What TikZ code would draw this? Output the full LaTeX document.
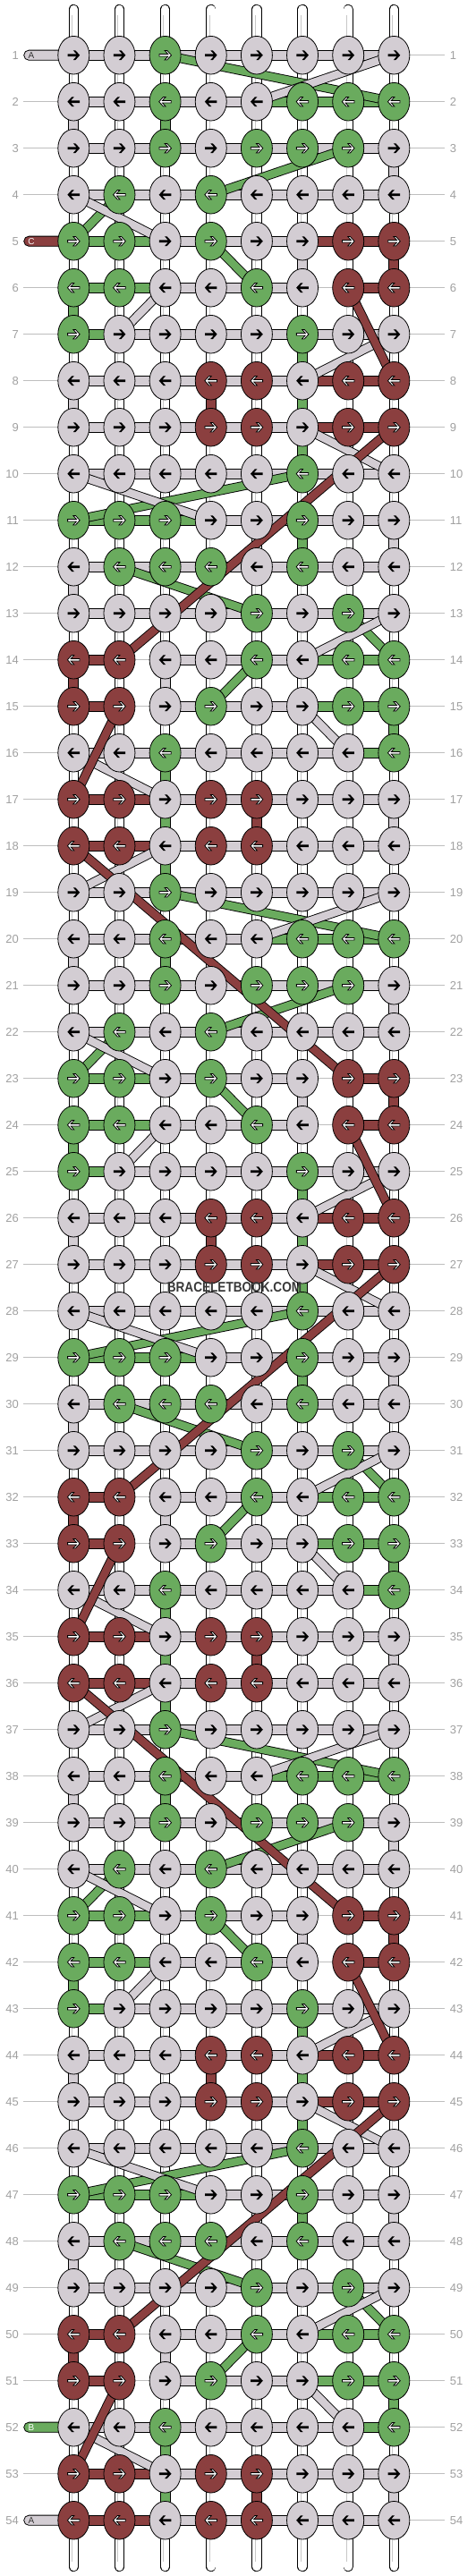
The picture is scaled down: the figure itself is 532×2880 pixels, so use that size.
\documentclass[tikz,border=0pt]{standalone}
\usepackage{fontspec}
\setmainfont{Liberation Sans}
\usetikzlibrary{shapes.geometric}

\definecolor{strL}{HTML}{D3CDD3}
\definecolor{strG}{HTML}{6AAB5E}
\definecolor{strR}{HTML}{8B3F3F}
\definecolor{rowgray}{HTML}{A0A0A0}
\definecolor{guide}{HTML}{BEBEBE}
\definecolor{txtdark}{HTML}{333333}

\tikzset{
  knot/.style={ellipse, draw=black, line width=0.8, minimum width=35, minimum height=42.6, inner sep=0},
  knotL/.style={knot, fill=strL},
  knotG/.style={knot, fill=strG},
  knotR/.style={knot, fill=strR},
  arrL/.style={fill=black},
  arrG/.style={fill=white, draw=black, line width=0.8, line join=miter},
  arrR/.style={arrG},
  pics/knotarrow/.style={code={
    \path[#1] (6.9,0) -- (2.1,5.3) -- (-0.5,5.3) -- (3.1,1.3) -- (-6.7,1.3) -- (-6.7,-1.3)
      -- (3.1,-1.3) -- (-0.5,-5.3) -- (2.1,-5.3) -- cycle;
  }},
  seg/.style={fill=#1, draw=black, line width=0.8},
  band/.style={draw=black, line width=10.4, postaction={draw=#1, line width=8.6}},
  tube/.style={draw=black, line width=11.4, line cap=round,
    postaction={draw=white, line width=9.6, line cap=round}},
  tubeshade/.style={draw=black!22, line width=0.7},
  guideline/.style={draw=guide, line width=1},
  rownum/.style={text=rowgray, font=\fontsize{13}{15}\selectfont, inner sep=0},
  stub/.style={draw=black, line width=0.8, rounded corners=5.6},
  stublab/.style={font=\fontsize{10}{12}\selectfont, inner sep=0},
  wm/.style={font=\bfseries\fontsize{13.6}{15}\selectfont, yscale=1.15, inner sep=0}
}

\begin{document}
\begin{tikzpicture}[x=1pt,y=-1pt]
\useasboundingbox (0,0) rectangle (532,2880);

% knot centres
\foreach \r in {1,...,54}
  \foreach \cc in {1,...,8}
    \coordinate (p\r-\cc) at ({82.3+(\cc-1)*51.15},{61.7+(\r-1)*52});

% guide lines and row numbers
\foreach \r in {1,...,54} {
  \coordinate (gl\r) at (26,{61.7+(\r-1)*52});
  \coordinate (gr\r) at (497,{61.7+(\r-1)*52});
  \draw[guideline] (gl\r) -- (gr\r);
  \node[rownum, anchor=east] (ln\r) at ([xshift=-5]gl\r) {\r};
  \node[rownum, anchor=west] (rn\r) at ([xshift=5.7]gr\r) {\r};
}

% base strings
\foreach \cc in {1,...,8} {
  \coordinate (t\cc) at ({82.3+(\cc-1)*51.15},10.5);
  \coordinate (b\cc) at ({82.3+(\cc-1)*51.15},2869.5);
  \draw[tube] (t\cc) -- (b\cc);
  \draw[tubeshade] ([xshift=-1.8,yshift=-6]t\cc) -- ([xshift=-1.8,yshift=6]b\cc);
}

% coloured pieces of the base strings
\foreach \p in {0,18,36}
  \foreach \ra/\cc/\k in {2/1/L, 2/3/G, 3/8/L, 5/6/L, 5/8/R, 6/1/G, 7/6/G, 8/1/L, 8/4/R, 8/6/G,
      9/6/G, 11/6/G, 11/8/L, 12/1/L, 14/1/R, 14/3/L, 15/8/G, 16/3/G, 17/3/G, 17/5/R, 17/8/L} {
    \pgfmathtruncatemacro\r{\ra+\p}
    \pgfmathtruncatemacro\rn{\ra+\p+1}
    \path[seg=str\k] ([xshift=-5.5]p\r-\cc) rectangle ([xshift=5.5]p\rn-\cc);
  }
\foreach \r in {18,36} {
  \pgfmathtruncatemacro\rn{\r+1}
  \path[seg=strG] ([xshift=-5.5]p\r-3) rectangle ([xshift=5.5]p\rn-3);
}

% knotting strings along the rows
\foreach \p in {0,18,36}
  \foreach \t/\segs in {1/{L,L,L,L,L,L,L}, 2/{L,L,L,L,G,G,G}, 3/{L,L,L,L,L,L,L},
      4/{L,L,L,L,L,L,L}, 5/{G,G,L,L,L,N,R}, 6/{G,G,L,L,L,N,R}, 7/{G,L,L,L,L,L,L},
      8/{L,L,L,L,L,R,R}, 9/{L,L,L,L,L,R,R}, 10/{L,L,L,L,L,L,L}, 11/{G,G,G,L,L,L,L},
      12/{L,L,L,L,L,L,L}, 13/{L,L,L,L,L,L,L}, 14/{R,N,L,L,L,G,G}, 15/{R,N,L,L,L,G,G},
      16/{L,L,L,L,L,L,G}, 17/{R,R,L,L,L,L,L}, 18/{R,R,L,L,L,L,L}} {
    \pgfmathtruncatemacro\r{\t+\p}
    \foreach \s [count=\cc] in \segs {
      \pgfmathtruncatemacro\cn{\cc+1}
      \if\s N\else
        \path[seg=str\s] ([yshift=5.6]p\r-\cc) rectangle ([yshift=-5.6]p\r-\cn);
      \fi
    }
  }
\path[seg=strR] ([yshift=5.6]p5-6) rectangle ([yshift=-5.6]p5-7);

% strings jumping between rows
\foreach \p in {0,18,36} {
  \foreach \ra/\ca/\rb/\cb in {1/3/2/8, 3/7/4/4, 4/2/5/1, 5/4/6/5, 10/6/11/1, 12/2/13/5, 13/7/14/8, 14/5/15/4} {
    \pgfmathtruncatemacro\r{\ra+\p}
    \pgfmathtruncatemacro\rn{\rb+\p}
    \draw[band=strG] (p\r-\ca) -- (p\rn-\cb);
  }
  \foreach \ra/\ca/\rb/\cb in {1/8/2/5, 4/1/5/3, 6/3/7/2, 7/8/8/6, 9/6/10/8, 10/1/11/4, 13/8/14/6, 15/6/16/7, 16/1/17/3} {
    \pgfmathtruncatemacro\r{\ra+\p}
    \pgfmathtruncatemacro\rn{\rb+\p}
    \draw[band=strL] (p\r-\ca) -- (p\rn-\cb);
  }
}
\foreach \p in {0,18} {
  \pgfmathtruncatemacro\r{18+\p}
  \pgfmathtruncatemacro\rn{19+\p}
  \draw[band=strL] (p\r-3) -- (p\rn-1);
}
\foreach \p in {0,18,36}
  \foreach \ra/\ca/\rb/\cb in {6/7/8/8, 9/8/14/2, 15/2/17/1} {
    \pgfmathtruncatemacro\r{\ra+\p}
    \pgfmathtruncatemacro\rn{\rb+\p}
    \draw[band=strR] (p\r-\ca) -- (p\rn-\cb);
  }
\foreach \p in {0,18} {
  \pgfmathtruncatemacro\r{18+\p}
  \pgfmathtruncatemacro\rn{23+\p}
  \draw[band=strR] (p\r-1) -- (p\rn-7);
}

% loose ends entering at the left
\foreach \r/\k/\lab/\tc in {1/L/A/txtdark, 5/R/C/white, 52/G/B/white, 54/L/A/txtdark} {
  \coordinate (s\r) at (26.7,{61.7+(\r-1)*52});
  \path[stub, fill=str\k] ([yshift=5.6]s\r) rectangle ([yshift=-5.6]p\r-1);
  \node[stublab, text=\tc] (sl\r) at ([xshift=8.3]s\r) {\lab};
}

% knots
\foreach \p in {0,18,36}
  \foreach \t/\cols in {1/{L,L,G,L,L,L,L,L}, 2/{L,L,G,L,L,G,G,G}, 3/{L,L,G,L,G,G,G,L},
      4/{L,G,L,G,L,L,L,L}, 5/{G,G,L,G,L,L,R,R}, 6/{G,G,L,L,G,L,R,R}, 7/{G,L,L,L,L,G,L,L},
      8/{L,L,L,R,R,L,R,R}, 9/{L,L,L,R,R,L,R,R}, 10/{L,L,L,L,L,G,L,L}, 11/{G,G,G,L,L,G,L,L},
      12/{L,G,G,G,L,G,L,L}, 13/{L,L,L,L,G,L,G,L}, 14/{R,R,L,L,G,L,G,G}, 15/{R,R,L,G,L,L,G,G},
      16/{L,L,G,L,L,L,L,G}, 17/{R,R,L,R,R,L,L,L}, 18/{R,R,L,R,R,L,L,L}} {
    \pgfmathtruncatemacro\r{\t+\p}
    \ifodd\r\relax \def\dirx{1}\else \def\dirx{-1}\fi
    \foreach \k [count=\cc] in \cols {
      \node[knot\k] (k\r-\cc) at (p\r-\cc) {};
      \pic[xscale=\dirx] at (k\r-\cc.center) {knotarrow=arr\k};
    }
  }

% watermark
\node[wm, text=black!78] (wm) at (262,1439.5) {BRACELETBOOK.COM};

\end{tikzpicture}
\end{document}
